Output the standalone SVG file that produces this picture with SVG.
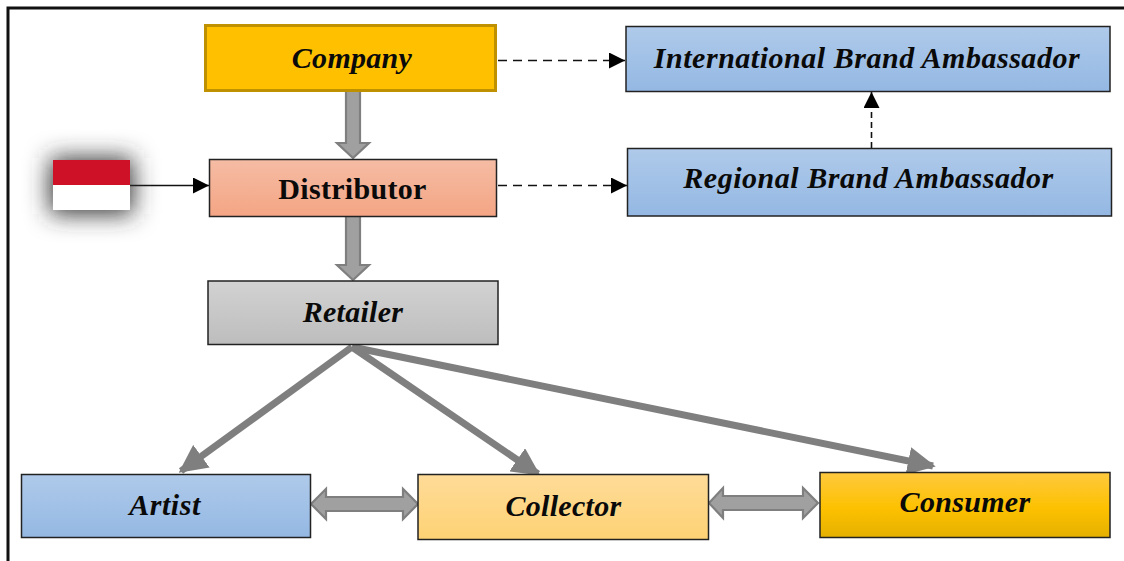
<svg xmlns="http://www.w3.org/2000/svg" width="1124" height="561" viewBox="0 0 1124 561">
<style>
.n{stroke:#222;stroke-width:1.5}
.t{font-family:"Liberation Serif","Times New Roman",serif;font-weight:bold;font-style:italic;font-size:30px;text-anchor:middle;fill:#0a0a0a;letter-spacing:.3px}
.w{letter-spacing:.52px}
.u{font-family:"Liberation Serif","Times New Roman",serif;font-weight:bold;font-size:30px;text-anchor:middle;fill:#0a0a0a;letter-spacing:.3px}
.d{fill:none;stroke:#111;stroke-width:1.6;stroke-dasharray:9 6}
.e{fill:none;stroke:#111;stroke-width:1.6;stroke-dasharray:6 4}
.s{fill:none;stroke:#111;stroke-width:1.5}
.b{fill:#a0a0a0;stroke:#7f7f7f;stroke-width:2.2}
.g{fill:none;stroke:#7f7f7f;stroke-width:7}
</style>
<defs>
<linearGradient id="blue" x1="0" y1="0" x2="0" y2="1"><stop offset="0" stop-color="#afcaea"/><stop offset="1" stop-color="#94b8e3"/></linearGradient>
<linearGradient id="sal" x1="0" y1="0" x2="0" y2="1"><stop offset="0" stop-color="#f5bca4"/><stop offset="1" stop-color="#f4a584"/></linearGradient>
<linearGradient id="gr" x1="0" y1="0" x2="0" y2="1"><stop offset="0" stop-color="#d2d2d2"/><stop offset="1" stop-color="#bdbdbd"/></linearGradient>
<linearGradient id="pe" x1="0" y1="0" x2="0" y2="1"><stop offset="0" stop-color="#fedb98"/><stop offset="1" stop-color="#fed274"/></linearGradient>
<linearGradient id="au" x1="0" y1="0" x2="0" y2="1"><stop offset="0" stop-color="#ffc93f"/><stop offset=".55" stop-color="#fdc100"/><stop offset="1" stop-color="#e4b000"/></linearGradient>
<filter id="sh" x="-80%" y="-120%" width="260%" height="340%"><feGaussianBlur stdDeviation="12"/></filter>
<marker id="ah" viewBox="0 0 10 10" refX="10" refY="5" markerWidth="16" markerHeight="16" markerUnits="userSpaceOnUse" orient="auto"><path d="M0 0L10 5L0 10z" fill="#000"/></marker>
<marker id="gh" viewBox="0 0 10 10" refX="9" refY="5" markerWidth="4" markerHeight="4" orient="auto"><path d="M0 0L10 5L0 10z" fill="#7f7f7f"/></marker>
</defs>
<path d="M8 561V8H1124" fill="none" stroke="#111" stroke-width="3"/>
<g id="connectors">
<path class="d" d="M498 60.500H625" marker-end="url(#ah)"/>
<path class="d" d="M498 185.500H627" marker-end="url(#ah)"/>
<path class="e" d="M871.500 148V92" marker-end="url(#ah)"/>
<path class="s" d="M130 185.500H209" marker-end="url(#ah)"/>
<path class="b" d="M346 91H360V143H369L353 158L337 143H346z"/>
<path class="b" d="M346 216H360V265H369L353 280L337 265H346z"/>
<path class="g" d="M352 347L181 471" marker-end="url(#gh)"/>
<path class="g" d="M352 347L538 474" marker-end="url(#gh)"/>
<path class="g" d="M352 347L933 466" marker-end="url(#gh)"/>
<path class="b" d="M311 504L326 489V497H403V489L418 504L403 519V511H326V519z"/>
<path class="b" d="M709 503L723 488V496H803V488L818 503L803 518V510H723V518z"/>
</g>
<g id="flag">
<rect x="50" y="158" width="83" height="56" fill="#333" filter="url(#sh)"/>
<rect x="53" y="160" width="77" height="25" fill="#ce1126"/>
<rect x="53" y="185" width="77" height="25" fill="#fff"/>
</g>
<g id="company"><rect x="205.500" y="25.500" width="290" height="65" fill="#ffc000" stroke="#bf9000" stroke-width="3"/><text class="t" x="352" y="68">Company</text></g>
<g id="distributor"><rect class="n" x="209.500" y="159.500" width="287" height="57" fill="url(#sal)"/><text class="u" x="352.500" y="199">Distributor</text></g>
<g id="retailer"><rect class="n" x="208" y="281" width="290" height="63.500" fill="url(#gr)"/><text class="t" x="353" y="322">Retailer</text></g>
<g id="international"><rect class="n" x="626" y="26.500" width="484" height="65" fill="url(#blue)"/><text class="t w" x="867" y="68">International Brand Ambassador</text></g>
<g id="regional"><rect class="n" x="627.500" y="148.500" width="484" height="67.500" fill="url(#blue)"/><text class="t w" x="868.500" y="188">Regional Brand Ambassador</text></g>
<g id="artist"><rect class="n" x="21.500" y="474.500" width="289" height="63" fill="url(#blue)"/><text class="t w" x="165" y="515">Artist</text></g>
<g id="collector"><rect class="n" x="418" y="474.500" width="290.500" height="65" fill="url(#pe)"/><text class="t" x="563.500" y="516">Collector</text></g>
<g id="consumer"><rect class="n" x="820" y="472.500" width="290" height="65" fill="url(#au)"/><text class="t" x="965" y="512">Consumer</text></g>
</svg>
